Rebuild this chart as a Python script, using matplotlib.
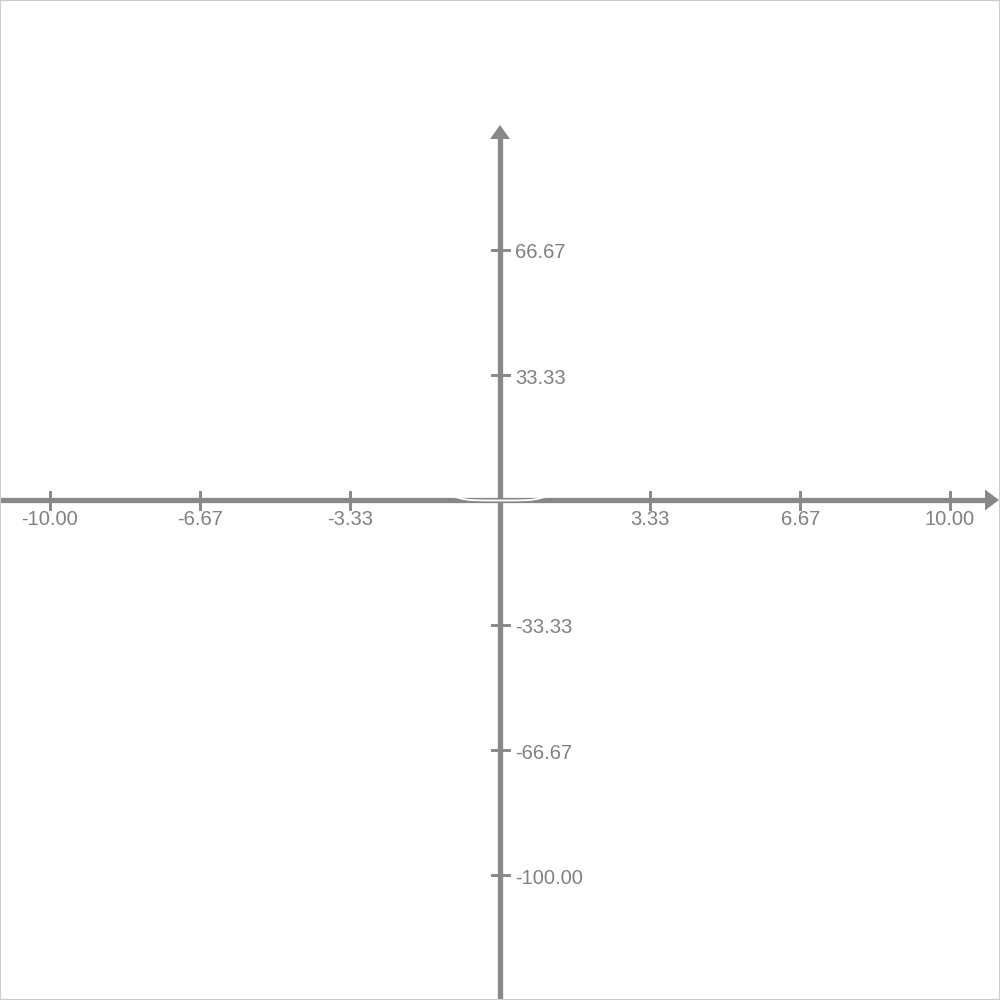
import matplotlib
matplotlib.use("Agg")
import matplotlib.pyplot as plt
from matplotlib.patches import Polygon, Rectangle

# Data
x_ticks = [-10.00, -6.67, -3.33, 3.33, 6.67, 10.00]
x_tick_labels = ["-10.00", "-6.67", "-3.33", "3.33", "6.67", "10.00"]
y_ticks = [66.67, 33.33, -33.33, -66.67, -100.00]
y_tick_labels = ["66.67", "33.33", "-33.33", "-66.67", "-100.00"]
curve_x = [-1.3, -1.15, -1.0, -0.83, -0.67, -0.5, -0.33, 0.0, 0.33, 0.5, 0.67, 0.83, 1.0, 1.15, 1.3]
curve_y = [2.6, 1.6, 0.8, 0.3, 0.0, -0.08, -0.12, -0.13, -0.12, -0.08, 0.0, 0.3, 0.8, 1.6, 2.6]

XMIN, XMAX = -11.111, 11.111
YMIN, YMAX = -133.333, 133.333
Y_ARROW_TIP = 100.0

AX_COLOR = "#888888"
TXT_COLOR = "#808080"

plt.rcParams["font.family"] = ["Liberation Sans", "DejaVu Sans"]

fig = plt.figure(figsize=(10, 10), dpi=100)
ax = fig.add_axes([0, 0, 1, 1])
ax.set_xlim(XMIN, XMAX)
ax.set_ylim(YMIN, YMAX)
ax.axis("off")

# pixel -> data scale
px_x = (XMAX - XMIN) / 1000.0
px_y = (YMAX - YMIN) / 1000.0

# x axis line + arrow
ax.plot([XMIN, XMAX - 14 * px_x], [0, 0], color=AX_COLOR, lw=3.8, solid_capstyle="butt", zorder=2)
ax.add_patch(Polygon([[XMAX - 15 * px_x, 10.5 * px_y], [XMAX - 15 * px_x, -10.5 * px_y], [XMAX - 1 * px_x, 0]],
                     closed=True, color=AX_COLOR, lw=0, zorder=3))
# y axis line + arrow
ax.plot([0, 0], [YMIN, Y_ARROW_TIP - 13 * px_y], color=AX_COLOR, lw=3.8, solid_capstyle="butt", zorder=2)
ax.add_patch(Polygon([[-10 * px_x, Y_ARROW_TIP - 14 * px_y], [10 * px_x, Y_ARROW_TIP - 14 * px_y], [0, Y_ARROW_TIP]],
                     closed=True, color=AX_COLOR, lw=0, zorder=3))

# x ticks
for xv, lab in zip(x_ticks, x_tick_labels):
    ax.plot([xv, xv], [-8.5 * px_y, 8.5 * px_y], color=AX_COLOR, lw=2.1, zorder=2)
    ax.text(xv, -19.5 * px_y, lab, ha="center", va="center", fontsize=14.5, color=TXT_COLOR)

# y ticks
for yv, lab in zip(y_ticks, y_tick_labels):
    ax.plot([-8.5 * px_x, 8.5 * px_x], [yv, yv], color=AX_COLOR, lw=2.1, zorder=2)
    ax.text(15 * px_x, yv - 3 * px_y, lab, ha="left", va="center", fontsize=14.5, color=TXT_COLOR)

# white function curve
ax.plot(curve_x, curve_y, color="white", lw=1.3, zorder=4)

# border
fig.patches.append(Rectangle((0, 0), 1, 1, transform=fig.transFigure, fill=False,
                             edgecolor="#cccccc", lw=1.5, zorder=10))

fig.savefig("out.png", dpi=100, facecolor="white")
